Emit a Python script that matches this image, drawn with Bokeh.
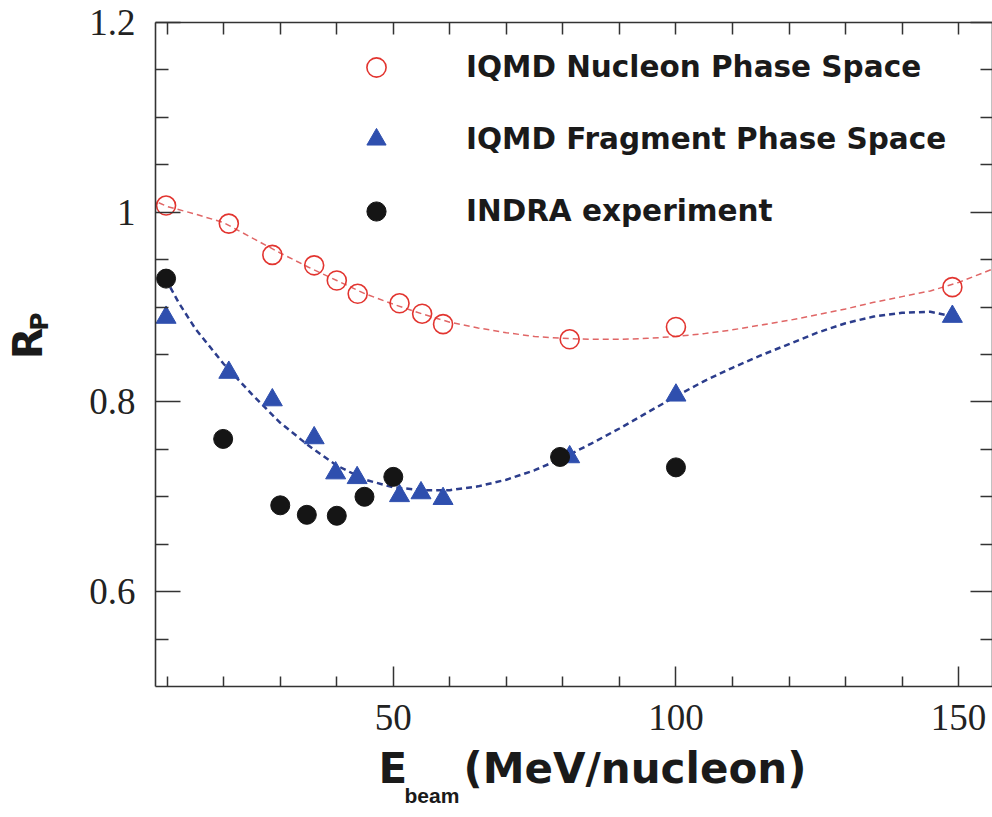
import math
from bokeh.plotting import figure
from bokeh.layouts import row, column
from bokeh.models import (LinearAxis, FixedTicker, Range1d, Legend, LegendItem,
                          Label, CustomJSTickFormatter)
from bokeh.embed import file_html
from bokeh.resources import INLINE

# ---------------- data ----------------
E_nucleon = [9.8, 20.9, 28.6, 36.0, 40.0, 43.7, 51.1, 55.1, 58.8, 81.2, 100.0, 148.9]
R_nucleon = [1.007, 0.988, 0.955, 0.944, 0.928, 0.914, 0.904, 0.893, 0.882, 0.866, 0.879, 0.921]

E_fragment = [9.8, 20.9, 28.6, 36.0, 39.8, 43.6, 51.1, 54.9, 58.8, 81.2, 100.0, 148.9]
R_fragment = [0.889, 0.831, 0.802, 0.762, 0.725, 0.720, 0.701, 0.704, 0.698, 0.742, 0.807, 0.890]

E_indra = [9.8, 19.9, 30.0, 34.7, 40.0, 44.9, 50.0, 79.5, 100.0]
R_indra = [0.930, 0.761, 0.691, 0.681, 0.680, 0.700, 0.721, 0.742, 0.731]

# dashed fit curves
E_nucleon_fit = [8.5, 10, 15, 20, 25, 30, 35, 40, 45, 50, 55, 60, 65, 70, 75, 80, 85, 90,
                 95, 100, 105, 110, 115, 120, 125, 130, 135, 140, 145, 150, 156]
R_nucleon_fit = [1.010, 1.006, 0.998, 0.989, 0.973, 0.957, 0.942, 0.928, 0.914, 0.903,
                 0.893, 0.884, 0.878, 0.873, 0.869, 0.867, 0.866, 0.866, 0.867, 0.869,
                 0.872, 0.876, 0.881, 0.886, 0.892, 0.898, 0.905, 0.911, 0.917, 0.926, 0.940]

E_fragment_fit = [9.7, 12, 15, 20, 25, 30, 35, 40, 45, 50, 55, 60, 65, 70, 75, 80, 85, 90,
                  95, 100, 105, 110, 115, 120, 125, 130, 135, 140, 145, 149]
R_fragment_fit = [0.930, 0.905, 0.877, 0.840, 0.808, 0.778, 0.754, 0.733, 0.718, 0.710,
                  0.707, 0.707, 0.711, 0.718, 0.728, 0.741, 0.756, 0.772, 0.789, 0.806,
                  0.822, 0.836, 0.849, 0.861, 0.873, 0.883, 0.890, 0.894, 0.895, 0.890]

x_major_ticks = [50, 100, 150]
x_tick_labels = ["50", "100", "150"]
x_minor_ticks = [10, 20, 30, 40, 60, 70, 80, 90, 110, 120, 130, 140]
x_top_ticks = [10, 20, 30, 40, 50, 60, 70, 80, 90, 100, 110, 120, 130, 140, 150]

y_major_ticks = [0.6, 0.8, 1.0, 1.2]
y_tick_labels = ["0.6", "0.8", "1", "1.2"]
y_minor_ticks = [0.55, 0.65, 0.7, 0.75, 0.85, 0.9, 0.95, 1.05, 1.1, 1.15]

legend_labels = ["IQMD Nucleon Phase Space", "IQMD Fragment Phase Space", "INDRA experiment"]

# ---------------- styling ----------------
AXIS_COL = "#333333"
RED = "#e2342f"
RED_LINE = "#e06666"
BLUE = "#2f4fae"
BLUE_LINE = "#2c3d8c"
BLACK = "#151515"
TEXT_COL = "#1a1a1a"
TITLE_FONT = "DejaVu Sans"

LEFT_W = 60
MAIN_H = 745
FRAME_TOP = 22       # page y of the plot frame's upper edge
FRAME_BOTTOM = 686   # page y of the plot frame's lower edge

p = figure(width=992 - LEFT_W, height=MAIN_H, output_backend="svg", toolbar_location=None,
           x_range=Range1d(7.93, 156.0), y_range=Range1d(0.5, 1.2),
           min_border_left=95, min_border_right=0, min_border_top=FRAME_TOP,
           min_border_bottom=MAIN_H - FRAME_BOTTOM,
           background_fill_color="white", border_fill_color="white")
p.outline_line_color = None
p.xgrid.visible = False
p.ygrid.visible = False

# fit curves
p.line(E_nucleon_fit, R_nucleon_fit, line_color=RED_LINE, line_width=1.5, line_dash="6 4")
p.line(E_fragment_fit, R_fragment_fit, line_color=BLUE_LINE, line_width=2.5, line_dash="6 4")

# markers
r_nuc = p.scatter(E_nucleon, R_nucleon, marker="circle", size=19, fill_color=None,
                  line_color=RED, line_width=1.6)
r_frag = p.scatter(E_fragment, R_fragment, marker="triangle", size=20, fill_color=BLUE,
                   line_color=BLUE, line_width=1)
r_ind = p.scatter(E_indra, R_indra, marker="circle", size=19, fill_color=BLACK,
                  line_color=BLACK, line_width=1)


def style_axis(ax):
    ax.axis_line_color = AXIS_COL
    ax.axis_line_width = 1.6
    ax.major_tick_line_color = AXIS_COL
    ax.minor_tick_line_color = AXIS_COL
    ax.major_tick_line_width = 1.5
    ax.minor_tick_line_width = 1.5
    ax.major_tick_out = 0
    ax.minor_tick_out = 0


# bottom axis
xb = p.xaxis[0]
style_axis(xb)
xb.ticker = FixedTicker(ticks=x_major_ticks, minor_ticks=x_minor_ticks)
xb.major_label_overrides = {t: s for t, s in zip(x_major_ticks, x_tick_labels)}
xb.major_tick_in = 20
xb.minor_tick_in = 10
xb.major_label_text_font = "Liberation Serif"
xb.major_label_text_font_size = "37px"
xb.major_label_text_color = "#222222"
xb.major_label_standoff = 18

# left axis
yl = p.yaxis[0]
style_axis(yl)
yl.ticker = FixedTicker(ticks=y_major_ticks, minor_ticks=y_minor_ticks)
yl.major_label_overrides = {t: s for t, s in zip(y_major_ticks, y_tick_labels)}
yl.major_tick_in = 25
yl.minor_tick_in = 13
yl.major_label_text_font = "Liberation Serif"
yl.major_label_text_font_size = "37px"
yl.major_label_text_color = "#222222"
yl.major_label_standoff = 20

# top axis (ticks only)
xt = LinearAxis(ticker=FixedTicker(ticks=x_top_ticks, minor_ticks=[]),
                formatter=CustomJSTickFormatter(code="return ''"),
                major_label_standoff=0, major_label_text_font_size="1px")
style_axis(xt)
xt.major_tick_in = 12
p.add_layout(xt, "above")

# right axis (ticks only)
yr = LinearAxis(ticker=FixedTicker(ticks=y_major_ticks, minor_ticks=y_minor_ticks),
                formatter=CustomJSTickFormatter(code="return ''"),
                major_label_standoff=0, major_label_text_font_size="1px")
style_axis(yr)
yr.major_tick_in = 22
yr.minor_tick_in = 12
p.add_layout(yr, "right")

# legend
legend = Legend(items=[LegendItem(label=legend_labels[0], renderers=[r_nuc]),
                       LegendItem(label=legend_labels[1], renderers=[r_frag]),
                       LegendItem(label=legend_labels[2], renderers=[r_ind])],
                location=(197, FRAME_BOTTOM - 235), orientation="vertical", padding=0,
                margin=0, spacing=24, glyph_width=48, glyph_height=48, label_height=48,
                label_standoff=66, label_text_font="DejaVu Sans",
                label_text_font_style="bold", label_text_font_size="29.5px",
                label_text_color=TEXT_COL, border_line_color=None,
                background_fill_alpha=0)
p.add_layout(legend)


def text_panel(w, h):
    f = figure(width=w, height=h, output_backend="svg", toolbar_location=None,
               title=None, x_axis_location=None, y_axis_location=None,
               min_border=0, x_range=Range1d(0, 1), y_range=Range1d(0, 1),
               background_fill_color="white", border_fill_color="white")
    f.outline_line_color = None
    f.xgrid.visible = False
    f.ygrid.visible = False
    return f


# y-axis title: R with subscript P (rotated); the panel's frame lines up with the main frame
left = text_panel(LEFT_W, MAIN_H)
left.add_layout(Label(x=27.5, y=FRAME_BOTTOM - 343, x_units="screen", y_units="screen",
                      text="R", angle=math.pi / 2, text_font=TITLE_FONT,
                      text_font_style="bold", text_font_size="41px", text_color=TEXT_COL,
                      text_align="center", text_baseline="middle"))
left.add_layout(Label(x=39, y=FRAME_BOTTOM - 321, x_units="screen", y_units="screen",
                      text="P", angle=math.pi / 2, text_font=TITLE_FONT,
                      text_font_style="bold", text_font_size="25px", text_color=TEXT_COL,
                      text_align="center", text_baseline="middle"))

# x-axis title: E with subscript beam, then (MeV/nucleon)
BOTTOM_H = 817 - MAIN_H
bottom = text_panel(992, BOTTOM_H)
bottom.add_layout(Label(x=378, y=49, x_units="screen", y_units="screen", text="E",
                        text_font=TITLE_FONT, text_font_style="bold", text_font_size="42px",
                        text_color=TEXT_COL, text_align="left", text_baseline="middle"))
bottom.add_layout(Label(x=404, y=22, x_units="screen", y_units="screen", text="beam",
                        text_font="Liberation Sans", text_font_style="bold",
                        text_font_size="21px", text_color=TEXT_COL, text_align="left",
                        text_baseline="middle"))
bottom.add_layout(Label(x=463, y=49, x_units="screen", y_units="screen",
                        text="(MeV/nucleon)", text_font=TITLE_FONT, text_font_style="bold",
                        text_font_size="42px", text_color=TEXT_COL, text_align="left",
                        text_baseline="middle"))

layout = column(row(left, p, spacing=0), bottom, spacing=0)

open("out.html", "w").write(file_html(layout, INLINE))
